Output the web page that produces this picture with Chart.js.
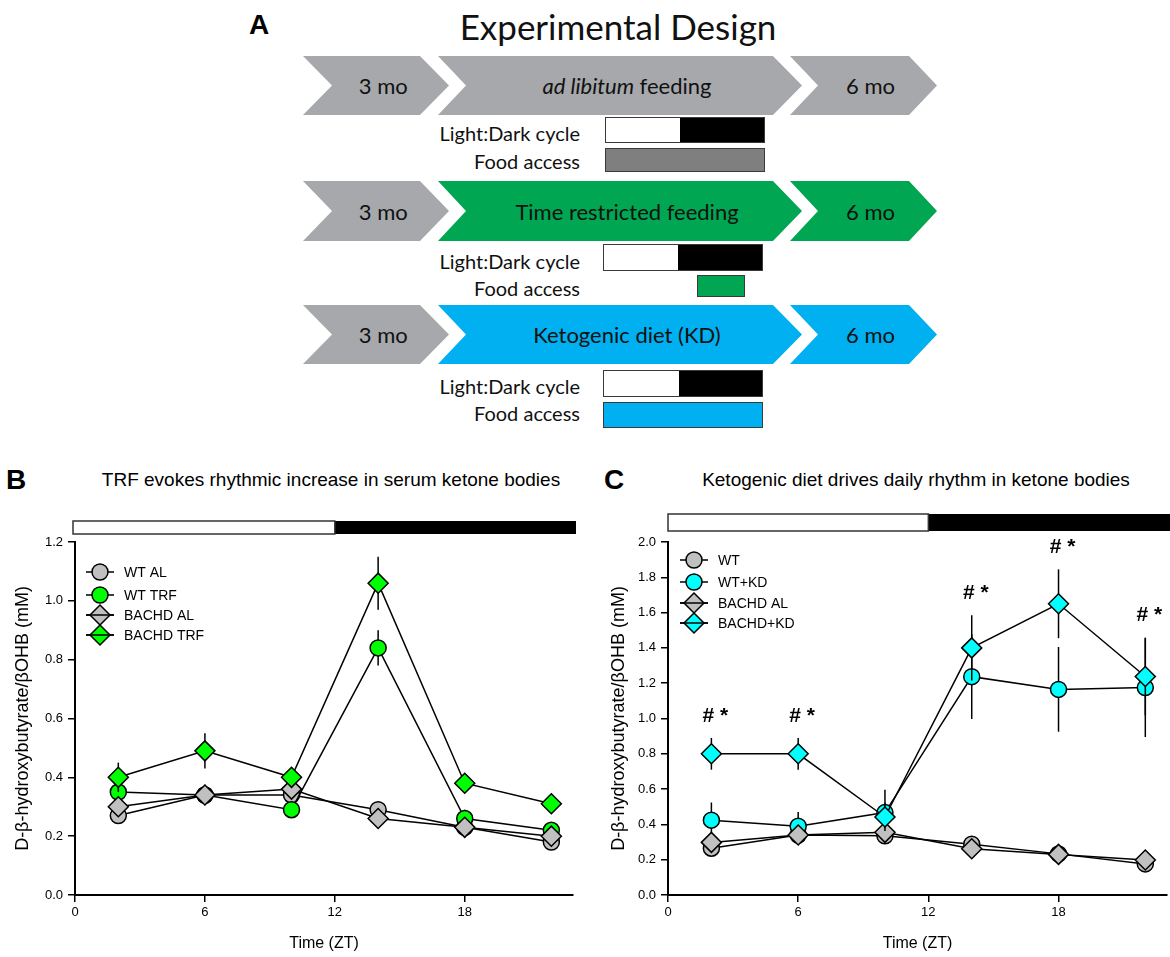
<!DOCTYPE html>
<html>
<head>
<meta charset="utf-8">
<script src="https://cdn.jsdelivr.net/npm/chart.js@4.4.1/dist/chart.umd.min.js"></script>
<style>
  body { margin: 0; background: #fff; width: 1170px; height: 957px; position: relative; overflow: hidden;
         font-family: 'Liberation Sans', Arial, sans-serif; }
  .chev { position: absolute; display: flex; align-items: center; justify-content: center;
          font-family: Lato, sans-serif; font-size: 22px; color: #111; }
  .lbl { position: absolute; width: 200px; height: 26px; line-height: 26px; text-align: right;
         font-family: Lato, sans-serif; font-size: 20px; color: #111; }
  .box { position: absolute; box-sizing: border-box; border: 1.5px solid #3a3a3a; }
  .letter { position: absolute; font-weight: bold; font-size: 28px; line-height: 30px; color: #000; }
  .ptitle { position: absolute; font-size: 19px; line-height: 22px; color: #000; white-space: nowrap;
            transform: translateX(-50%); }
  canvas { position: absolute; }
</style>
</head>
<body>
<div class="letter" style="left:249px; top:10px;">A</div>
<div style="position:absolute; left:618px; top:4px; transform:translateX(-50%); font-family:Lato, sans-serif; font-size:35px; line-height:44px; color:#111; white-space:nowrap;">Experimental Design</div>
<div id="design"></div>

<div class="letter" style="left:6px; top:465px;">B</div>
<div class="ptitle" style="left:331px; top:469px;">TRF evokes rhythmic increase in serum ketone bodies</div>
<div class="letter" style="left:604px; top:465px;">C</div>
<div class="ptitle" style="left:916px; top:469px;">Ketogenic diet drives daily rhythm in ketone bodies</div>

<canvas id="chartB" width="590" height="517" style="left:0; top:440px;"></canvas>
<canvas id="chartC" width="580" height="517" style="left:590px; top:440px;"></canvas>

<script>
// Horas de muestreo (ZT) y marcas del eje x
const timesZT = [2, 6, 10, 14, 18, 22];
const xTickValues = [0, 6, 12, 18];
const lightPhase = [0, 12];
const darkPhase = [12, 24];

// Panel B: TRF
const labelsB = ['WT AL', 'WT TRF', 'BACHD AL', 'BACHD TRF'];
const wtAL_B = [0.27, 0.34, 0.34, 0.29, 0.23, 0.18];
const wtAL_B_err = [0.02, 0.03, 0.02, 0.02, 0.01, 0.01];
const wtTRF = [0.35, 0.34, 0.29, 0.84, 0.26, 0.22];
const wtTRF_err = [0.03, 0.02, 0.02, 0.06, 0.03, 0.02];
const bachdAL_B = [0.30, 0.34, 0.36, 0.26, 0.23, 0.20];
const bachdAL_B_err = [0.03, 0.035, 0.02, 0.02, 0.02, 0.02];
const bachdTRF = [0.40, 0.49, 0.40, 1.06, 0.38, 0.31];
const bachdTRF_err = [0.05, 0.06, 0.02, 0.09, 0.02, 0.02];

// Panel C: dieta cetogénica
const labelsC = ['WT', 'WT+KD', 'BACHD AL', 'BACHD+KD'];
const wt_C = [0.265, 0.34, 0.335, 0.288, 0.233, 0.176];
const wt_C_err = [0.02, 0.02, 0.02, 0.02, 0.01, 0.01];
const wtKD = [0.424, 0.39, 0.467, 1.237, 1.165, 1.175];
const wtKD_err = [0.10, 0.08, 0.13, 0.24, 0.24, 0.28];
const bachdAL_C = [0.298, 0.34, 0.355, 0.262, 0.23, 0.198];
const bachdAL_C_err = [0.03, 0.03, 0.02, 0.02, 0.02, 0.02];
const bachdKD = [0.80, 0.80, 0.442, 1.40, 1.65, 1.238];
const bachdKD_err = [0.09, 0.09, 0.08, 0.185, 0.195, 0.22];
const sigLabelsC = ['#*', '#*', '', '#*', '#*', '#*'];

const FONT = "'Liberation Sans', Arial, sans-serif";
const GRAY = '#c0c0c0';
const GREEN = '#00ff00';
const CYAN = '#00ffff';

// ---------- Panel A (diagrama) ----------
const chevX = [[303, 332, 420, 449], [438, 466, 773, 802], [790, 818, 909, 937]];
const designRows = [
  { y: [56, 115], colors: ['#a6a8ab', '#a6a8ab', '#a6a8ab'], text: '<i>ad libitum</i>&nbsp;feeding',
    ld: [605, 679, 765, 117, 143], food: [605, 765, 148, 172, '#7f7f7f'], lblY: [133, 161] },
  { y: [181, 241], colors: ['#a6a8ab', '#00a651', '#00a651'], text: 'Time restricted feeding',
    ld: [603, 677, 763, 244, 271], food: [697, 745, 275, 297, '#00a651'], lblY: [261, 288] },
  { y: [305, 364], colors: ['#a6a8ab', '#00b0f0', '#00b0f0'], text: 'Ketogenic diet (KD)',
    ld: [603, 678, 763, 370, 397], food: [603, 763, 402, 428, '#00b0f0'], lblY: [386, 413] },
];

function drawDesign() {
  const host = document.getElementById('design');
  let html = '';
  designRows.forEach(row => {
    const h = row.y[1] - row.y[0];
    const texts = ['3 mo', row.text, '6 mo'];
    chevX.forEach((c, i) => {
      const w = c[3] - c[0];
      const notch = c[1] - c[0];
      const corner = c[2] - c[0];
      html += `<div class="chev" style="left:${c[0]}px; top:${row.y[0]}px; width:${w}px; height:${h}px;
        background:${row.colors[i]}; padding-left:${notch / 2}px; box-sizing:border-box;
        clip-path: polygon(0 0, ${corner}px 0, ${w}px 50%, ${corner}px 100%, 0 100%, ${notch}px 50%);">${texts[i]}</div>`;
    });
    const [l, m, r, t, b] = row.ld;
    html += `<div class="box" style="left:${l}px; top:${t}px; width:${r - l}px; height:${b - t}px;
      background: linear-gradient(to right, #fff 0, #fff ${m - l}px, #000 ${m - l}px, #000 100%);"></div>`;
    const [fl, fr, ft, fb, fc] = row.food;
    html += `<div class="box" style="left:${fl}px; top:${ft}px; width:${fr - fl}px; height:${fb - ft}px; background:${fc};"></div>`;
    html += `<div class="lbl" style="left:380px; top:${row.lblY[0] - 13}px;">Light:Dark cycle</div>`;
    html += `<div class="lbl" style="left:380px; top:${row.lblY[1] - 13}px;">Food access</div>`;
  });
  host.innerHTML = html;
}
drawDesign();

// ---------- Plugin: barras de error, barra luz/oscuridad, leyenda, significancia ----------
const decorPlugin = {
  id: 'decor',
  beforeDatasetDraw(chart, args) {
    const ds = chart.data.datasets[args.index];
    if (!ds.errors) return;
    const { ctx, scales: { x, y } } = chart;
    ctx.save();
    ctx.strokeStyle = '#000';
    ctx.lineWidth = 1.5;
    ds.data.forEach((p, i) => {
      const e = ds.errors[i];
      const px = x.getPixelForValue(p.x);
      ctx.beginPath();
      ctx.moveTo(px, y.getPixelForValue(p.y - e));
      ctx.lineTo(px, y.getPixelForValue(p.y + e));
      ctx.stroke();
    });
    ctx.restore();
  },
  afterDraw(chart, args, opts) {
    const { ctx, chartArea, scales: { x, y } } = chart;
    ctx.save();

    // barra luz / oscuridad
    const bTop = chartArea.top - opts.barGap - opts.barHeight;
    const xl0 = x.getPixelForValue(lightPhase[0]) + opts.barLeftShift;
    const xl1 = x.getPixelForValue(lightPhase[1]);
    const xd1 = Math.min(x.getPixelForValue(darkPhase[1]), chartArea.right + 3);
    ctx.fillStyle = '#000';
    ctx.fillRect(xl1, bTop, xd1 - xl1, opts.barHeight);
    ctx.fillStyle = '#fff';
    ctx.strokeStyle = '#333';
    ctx.lineWidth = 1.5;
    ctx.fillRect(xl0, bTop, xl1 - xl0, opts.barHeight);
    ctx.strokeRect(xl0, bTop, xl1 - xl0, opts.barHeight);

    // leyenda
    ctx.font = `14px ${FONT}`;
    ctx.textBaseline = 'middle';
    opts.labels.forEach((label, i) => {
      const ds = chart.data.datasets[i];
      const cx = chartArea.left + opts.legendX;
      const cy = chartArea.top + opts.legendRows[i];
      ctx.strokeStyle = '#000';
      ctx.lineWidth = 1.5;
      ctx.beginPath(); ctx.moveTo(cx - 14, cy); ctx.lineTo(cx + 14, cy); ctx.stroke();
      ctx.fillStyle = ds.pointBackgroundColor;
      Chart.helpers.drawPoint(ctx, { pointStyle: ds.pointStyle, radius: ds.pointRadius, borderWidth: 1.5, rotation: 0 }, cx, cy);
      if (ds.pointStyle === 'rectRot') {
        ctx.beginPath(); ctx.moveTo(cx - 14, cy); ctx.lineTo(cx + 14, cy); ctx.stroke();
      }
      ctx.fillStyle = '#000';
      ctx.textAlign = 'left';
      ctx.fillText(label, cx + 24, cy + 1);
    });

    // marcas de significancia
    if (opts.sig) {
      const ds = chart.data.datasets[opts.sig.series];
      ctx.font = `bold 21px ${FONT}`;
      ctx.textAlign = 'center';
      ctx.fillStyle = '#000';
      opts.sig.labels.forEach((txt, i) => {
        if (!txt) return;
        const p = ds.data[i];
        const px = x.getPixelForValue(p.x) + 4;
        const py = y.getPixelForValue(p.y + ds.errors[i]) - 22;
        ctx.fillText(txt.split('').join(' '), px, py);
      });
    }
    ctx.restore();
  }
};

function makeSeries(labels, values, errors, fills, styles) {
  return labels.map((label, i) => ({
    label: label,
    data: timesZT.map((t, k) => ({ x: t, y: values[i][k] })),
    errors: errors[i],
    borderColor: '#000',
    borderWidth: 1.5,
    pointStyle: styles[i],
    pointRadius: styles[i] === 'circle' ? 8 : 10,
    pointBackgroundColor: fills[i],
    pointBorderColor: '#000',
    pointBorderWidth: 1.5,
    tension: 0,
    clip: false,
    order: labels.length - i,
  }));
}

function buildChart(id, datasets, yMax, decor) {
  return new Chart(document.getElementById(id), {
    type: 'line',
    data: { datasets: datasets },
    plugins: [decorPlugin],
    options: {
      responsive: false,
      animation: false,
      devicePixelRatio: 1,
      layout: { autoPadding: false, padding: { top: 102, right: decor.padRight, left: 0, bottom: 0 } },
      plugins: {
        legend: { display: false },
        tooltip: { enabled: false },
        decor: decor,
      },
      scales: {
        x: {
          type: 'linear',
          min: 0,
          max: 23,
          afterBuildTicks: s => { s.ticks = xTickValues.map(v => ({ value: v })); },
          afterFit: s => { s.height = 62; },
          grid: { display: true, drawOnChartArea: false, drawTicks: true, tickLength: 7, color: '#000', lineWidth: 1.5 },
          border: { display: true, color: '#000', width: 2 },
          ticks: { color: '#000', font: { size: 13, family: FONT }, padding: 3, maxRotation: 0 },
          title: { display: true, text: 'Time (ZT)', color: '#000', font: { size: 16, family: FONT }, padding: { top: 0, bottom: 4 } },
        },
        y: {
          min: 0,
          max: yMax,
          afterFit: s => { s.width = decor.yWidth; },
          grid: { display: true, drawOnChartArea: false, drawTicks: true, tickLength: 7, color: '#000', lineWidth: 1.5 },
          border: { display: true, color: '#000', width: 2 },
          ticks: { stepSize: 0.2, color: '#000', font: { size: 13, family: FONT }, padding: 5,
                   callback: v => v.toFixed(1) },
          title: { display: true, text: 'D-β-hydroxybutyrate/βOHB (mM)', color: '#000',
                   font: { size: 18, family: FONT }, padding: { top: decor.yTitlePad, bottom: 0 } },
        },
      },
    },
  });
}

buildChart('chartB',
  makeSeries(labelsB,
    [wtAL_B, wtTRF, bachdAL_B, bachdTRF],
    [wtAL_B_err, wtTRF_err, bachdAL_B_err, bachdTRF_err],
    [GRAY, GREEN, GRAY, GREEN],
    ['circle', 'circle', 'rectRot', 'rectRot']),
  1.2,
  { padRight: 17, yWidth: 75, yTitlePad: 12, barGap: 8, barHeight: 13, barLeftShift: -2,
    labels: labelsB, legendX: 25, legendRows: [30, 53, 73, 93] });

buildChart('chartC',
  makeSeries(labelsC,
    [wt_C, wtKD, bachdAL_C, bachdKD],
    [wt_C_err, wtKD_err, bachdAL_C_err, bachdKD_err],
    [GRAY, CYAN, GRAY, CYAN],
    ['circle', 'circle', 'rectRot', 'rectRot']),
  2.0,
  { padRight: 3, yWidth: 78, yTitlePad: 18, barGap: 11, barHeight: 17, barLeftShift: 0,
    labels: labelsC, legendX: 26, legendRows: [18, 40, 61, 81],
    sig: { series: 3, labels: sigLabelsC } });
</script>
</body>
</html>
